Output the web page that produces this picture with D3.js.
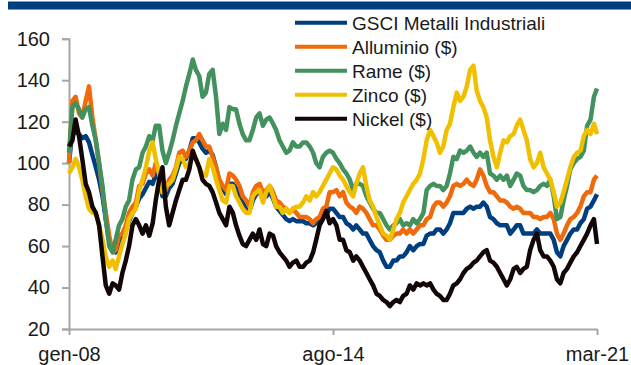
<!DOCTYPE html>
<html lang="it">
<head>
  <meta charset="UTF-8">
  <title>metalli-industriali</title>
  <script src="https://cdn.jsdelivr.net/npm/d3@7"></script>
  <style>
    body { margin: 0; background: #fff; }
    svg { display: block; font-family: 'Liberation Sans', Arial, sans-serif; }
    .axis path, .axis line { stroke: #a6a6a6; stroke-width: 2; }
    .axis text { fill: #1a1a1a; font-size: 20px; }
    .legend text { fill: #1a1a1a; font-size: 19px; }
  </style>
</head>
<body>
<script>
// monthly values, gen-08 .. mar-21 (rebased, gen-08 = 100)
let dates = d3.timeMonth.range(new Date(2008, 0, 1), new Date(2021, 3, 1));

let gsci = [100, 116, 115, 114, 112, 113, 110, 104, 98, 92, 84, 73,
  63, 58, 57, 61, 64, 68, 72, 76, 79, 83, 85, 88,
  91, 90, 95, 92, 84, 84, 88, 90, 95, 100, 102, 102,
  106, 112, 112, 110, 107, 105, 106, 104, 98, 91, 88, 85,
  90, 90, 88, 85, 81, 79, 77, 82, 85, 86, 83, 84,
  86, 83, 79, 77, 75, 73, 72, 73, 72, 72, 72, 71,
  71, 70, 71, 72, 74, 75, 78, 78, 76, 74, 74, 71,
  70, 68, 70, 68, 66, 66, 63, 60, 58, 57, 53, 50,
  50, 53, 53, 55, 55, 57, 60, 58, 60, 61, 61, 65,
  66, 66, 68, 68, 66, 68, 71, 76, 76, 76, 76, 78,
  79, 78, 79, 79, 81, 79, 74, 73, 71, 70, 70, 70,
  66, 68, 70, 70, 66, 66, 66, 66, 68, 66, 66, 66,
  66, 63, 57, 55, 60, 63, 66, 68, 68, 71, 73, 78,
  79, 82, 85];
let alluminio = [100, 130, 132, 124, 122, 130, 137, 122, 111, 100, 87, 76,
  65, 57, 58, 65, 66, 70, 76, 79, 81, 89, 90, 95,
  97, 94, 100, 95, 86, 87, 92, 94, 98, 105, 106, 103,
  106, 110, 111, 114, 111, 108, 108, 103, 98, 92, 89, 87,
  95, 94, 92, 89, 84, 82, 79, 86, 89, 90, 86, 87,
  89, 86, 82, 81, 79, 78, 76, 78, 76, 74, 74, 74,
  73, 71, 73, 74, 78, 79, 86, 86, 87, 84, 86, 81,
  79, 78, 76, 79, 78, 76, 73, 70, 70, 68, 65, 63,
  63, 65, 66, 66, 68, 66, 68, 66, 68, 70, 70, 73,
  74, 79, 81, 81, 79, 81, 84, 89, 90, 89, 90, 92,
  90, 89, 92, 97, 94, 89, 86, 86, 84, 82, 82, 81,
  79, 78, 79, 78, 76, 76, 76, 74, 74, 73, 74, 74,
  76, 73, 66, 63, 66, 70, 73, 74, 76, 79, 84, 86,
  86, 92, 94];
let rame = [105, 127, 129, 126, 122, 126, 127, 118, 111, 100, 89, 73,
  60, 57, 63, 70, 73, 79, 82, 92, 97, 98, 105, 108,
  113, 111, 118, 118, 106, 100, 105, 111, 118, 124, 130, 137,
  143, 150, 145, 142, 132, 134, 143, 145, 132, 114, 119, 116,
  127, 126, 126, 119, 114, 111, 111, 116, 122, 124, 118, 121,
  122, 119, 116, 111, 108, 105, 106, 110, 108, 108, 110, 110,
  108, 105, 100, 98, 103, 105, 106, 105, 102, 100, 97, 95,
  92, 87, 90, 90, 89, 84, 81, 78, 76, 76, 73, 70,
  68, 70, 71, 73, 70, 71, 70, 73, 71, 73, 76, 87,
  89, 90, 89, 89, 87, 89, 95, 103, 102, 106, 105, 106,
  108, 105, 103, 105, 103, 105, 95, 94, 92, 94, 92, 94,
  89, 92, 95, 94, 89, 87, 87, 86, 87, 89, 90, 89,
  92, 84, 73, 74, 82, 89, 97, 100, 102, 103, 106, 118,
  121, 132, 136];
let zinco = [95, 98, 102, 98, 92, 84, 78, 76, 76, 70, 63, 55,
  50, 53, 49, 55, 61, 66, 73, 76, 78, 87, 92, 98,
  106, 110, 102, 95, 86, 89, 90, 92, 97, 103, 102, 98,
  100, 103, 102, 98, 95, 94, 102, 98, 92, 87, 82, 81,
  89, 89, 84, 81, 78, 76, 76, 84, 86, 87, 81, 86,
  89, 84, 79, 79, 76, 78, 76, 78, 79, 79, 81, 84,
  82, 86, 84, 86, 89, 92, 95, 98, 97, 94, 92, 89,
  86, 84, 90, 95, 98, 89, 82, 79, 74, 70, 66, 65,
  63, 68, 73, 76, 81, 84, 87, 90, 92, 95, 102, 111,
  116, 113, 110, 105, 108, 116, 119, 127, 134, 130, 132, 137,
  145, 147, 135, 130, 127, 122, 111, 103, 98, 105, 111, 110,
  113, 114, 118, 121, 116, 111, 102, 98, 100, 105, 98, 95,
  92, 86, 79, 81, 86, 92, 98, 103, 105, 106, 113, 116,
  114, 119, 114];
let nickel = [108, 111, 121, 113, 102, 90, 86, 79, 76, 70, 55, 41,
  37, 42, 41, 39, 47, 53, 60, 70, 73, 70, 66, 70,
  65, 71, 82, 92, 98, 79, 70, 76, 82, 87, 92, 92,
  97, 106, 102, 98, 92, 90, 89, 86, 81, 76, 73, 70,
  79, 76, 70, 65, 61, 60, 63, 66, 63, 68, 61, 60,
  66, 65, 60, 57, 55, 53, 50, 52, 53, 50, 50, 52,
  53, 57, 63, 70, 73, 77, 71, 73, 70, 63, 63, 58,
  57, 53, 55, 53, 50, 47, 44, 41, 37, 36, 34, 33,
  31, 33, 34, 33, 36, 37, 41, 39, 42, 41, 42, 41,
  42, 39, 37, 36, 34, 34, 37, 41, 42, 44, 47, 49,
  50, 52, 53, 55, 57, 58, 53, 52, 50, 47, 44, 41,
  44, 49, 50, 47, 49, 50, 58, 63, 66, 58, 55, 55,
  53, 50, 44, 42, 47, 49, 52, 55, 57, 60, 63, 66,
  70, 73, 61];

let seriesNames = ['GSCI Metalli Industriali', 'Alluminio ($)', 'Rame ($)', 'Zinco ($)', 'Nickel ($)'];
let seriesValues = [gsci, alluminio, rame, zinco, nickel];
let seriesColors = ['#003f7f', '#ee6a0a', '#43915e', '#f0c000', '#120606'];

let yTicks = [20, 40, 60, 80, 100, 120, 140, 160];
let xTicks = [new Date(2008, 0, 1), new Date(2014, 7, 1), new Date(2021, 2, 1)];
let xTickLabels = ['gen-08', 'ago-14', 'mar-21'];

let width = 631;
let height = 365;
let margins = {top: 38.7, left: 69, right: 34, bottom: 36};

let svg = d3.select('body')
  .append('svg')
  .attr('width', width)
  .attr('height', height);

// blue band at the top
svg.append('rect')
  .attr('x', 8)
  .attr('y', 1.5)
  .attr('width', width - 8)
  .attr('height', 8)
  .attr('fill', '#003f7f');

let x = d3.scaleTime()
  .domain([xTicks[0], xTicks[2]])
  .range([margins.left, width - margins.right]);

let y = d3.scaleLinear()
  .domain([20, 160])
  .range([height - margins.bottom, margins.top]);

let yAxis = d3.axisLeft(y)
  .tickValues(yTicks)
  .tickSize(7)
  .tickPadding(12);

svg.append('g')
  .attr('class', 'axis y')
  .attr('transform', 'translate(' + margins.left + ',0)')
  .call(yAxis);

let xAxis = d3.axisBottom(x)
  .tickValues(xTicks)
  .tickFormat(function (d, i) { return xTickLabels[i]; })
  .tickSize(6)
  .tickSizeOuter(0)
  .tickPadding(12);

svg.append('g')
  .attr('class', 'axis x')
  .attr('transform', 'translate(0,' + (height - margins.bottom) + ')')
  .call(xAxis);

let line = d3.line()
  .x(function (d, i) { return x(dates[i]); })
  .y(function (d) { return y(d); });

let bodyG = svg.append('g').attr('class', 'body');

seriesValues.forEach(function (values, i) {
  bodyG.append('path')
    .datum(values)
    .attr('fill', 'none')
    .attr('stroke', seriesColors[i])
    .attr('stroke-width', 4.5)
    .attr('stroke-linejoin', 'round')
    .attr('d', line);
});

let legendG = svg.append('g').attr('class', 'legend');

seriesNames.forEach(function (name, i) {
  let ly = 22.7 + i * 24;
  legendG.append('line')
    .attr('x1', 295)
    .attr('x2', 347)
    .attr('y1', ly)
    .attr('y2', ly)
    .attr('stroke', seriesColors[i])
    .attr('stroke-width', 4);
  legendG.append('text')
    .attr('x', 352)
    .attr('y', ly)
    .attr('dy', '0.36em')
    .text(name);
});
</script>
</body>
</html>
